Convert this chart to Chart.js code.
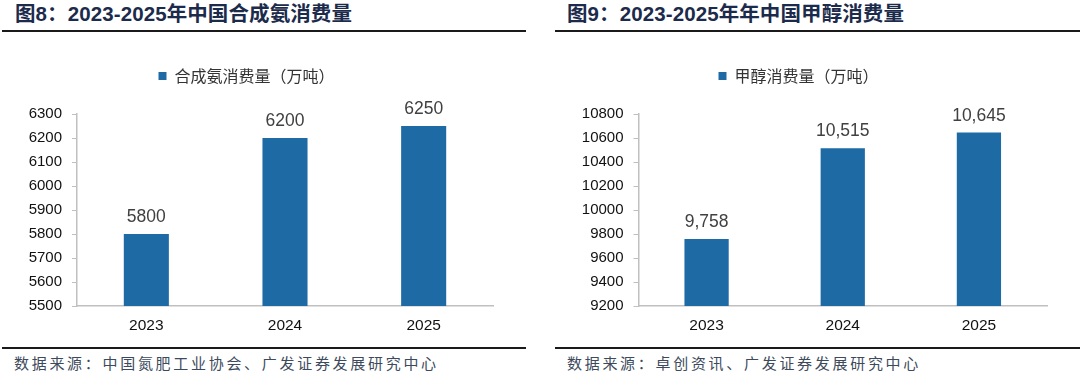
<!DOCTYPE html>
<html><head><meta charset="utf-8">
<script src="https://cdn.jsdelivr.net/npm/chart.js@4"></script>
<style>
html,body{margin:0;padding:0;background:#fff;}
#wrap{position:relative;width:1080px;height:379px;overflow:hidden;}
.title{position:absolute;top:2px;font:bold 20.5px 'Liberation Sans','Noto Sans CJK SC',sans-serif;color:#1c2b4b;line-height:24px;white-space:nowrap;letter-spacing:0.1px;}
.rule{position:absolute;height:2px;background:#1a1a1a;}
.src{position:absolute;top:352px;font:15px 'Noto Sans CJK SC',sans-serif;color:#3d4a5c;letter-spacing:2.7px;line-height:22px;white-space:nowrap;}
.box{position:absolute;top:40px;width:530px;height:300px;}
</style></head>
<body><div id="wrap">
<div class="title" style="left:15px">图8：2023-2025年中国合成氨消费量</div>
<div class="title" style="left:567px">图9：2023-2025年年中国甲醇消费量</div>
<div class="rule" style="left:2px;width:524px;top:30px"></div>
<div class="rule" style="left:555px;width:525px;top:30px"></div>
<div class="box" style="left:0px"><canvas id="c1"></canvas></div>
<div class="box" style="left:550px"><canvas id="c2"></canvas></div>
<div class="rule" style="left:2px;width:524px;top:347px"></div>
<div class="rule" style="left:555px;width:525px;top:347px"></div>
<div class="src" style="left:14px">数据来源：中国氮肥工业协会、广发证券发展研究中心</div>
<div class="src" style="left:567px">数据来源：卓创资讯、广发证券发展研究中心</div>
</div>
<script>
const years = ['2023', '2024', '2025'];
const ammoniaValues = [5800, 6200, 6250];
const methanolValues = [9758, 10515, 10645];
const ammoniaLabel = '合成氨消费量（万吨）';
const methanolLabel = '甲醇消费量（万吨）';
const ammoniaTicks = {min: 5500, max: 6300, step: 100};
const methanolTicks = {min: 9200, max: 10800, step: 200};

const BAR = '#1d6aa5';
const NUMFONT = "'Liberation Sans', Arial, sans-serif";

const valueLabels = {
  id: 'valueLabels',
  afterDatasetsDraw(chart, args, opts) {
    const ctx = chart.ctx;
    const meta = chart.getDatasetMeta(0);
    const data = chart.data.datasets[0].data;
    ctx.save();
    ctx.font = '17.5px ' + NUMFONT;
    ctx.fillStyle = '#404040';
    ctx.textAlign = 'center';
    ctx.textBaseline = 'alphabetic';
    meta.data.forEach((bar, i) => {
      ctx.fillText(opts.comma ? data[i].toLocaleString('en-US') : String(data[i]), bar.x, bar.y - 12);
    });
    ctx.restore();
  }
};

const legendGap = {
  id: 'legendGap',
  beforeInit(chart) {
    const orig = chart.legend.fit;
    chart.legend.fit = function () {
      orig.bind(chart.legend)();
      this.height += 20;
    };
  }
};

function makeChart(id, values, label, t, yWidth, padRight, comma) {
  return new Chart(document.getElementById(id), {
    type: 'bar',
    data: {labels: years, datasets: [{label, data: values, backgroundColor: BAR, borderWidth: 0, categoryPercentage: 1, barPercentage: 0.325}]},
    plugins: [valueLabels, legendGap],
    options: {
      responsive: true, maintainAspectRatio: false, animation: false,
      layout: {padding: {top: 18, right: padRight, left: 0, bottom: 0}},
      plugins: {
        legend: {display: true, position: 'top', labels: {boxWidth: 8, boxHeight: 8, padding: 10, color: '#333', font: {size: 16, family: "'Noto Sans CJK SC', sans-serif"}}},
        tooltip: {enabled: false},
        valueLabels: {comma}
      },
      scales: {
        x: {
          grid: {display: false, drawTicks: false},
          border: {display: true, color: '#c0c0c0', width: 1.5},
          ticks: {color: '#111', padding: 10, font: {size: 15.5, family: NUMFONT}},
          afterFit(s) { s.height = 34; }
        },
        y: {
          min: t.min, max: t.max,
          grid: {display: true, drawOnChartArea: false, drawTicks: true, tickLength: 5, color: '#c0c0c0'},
          border: {display: true, color: '#c0c0c0', width: 1.5},
          ticks: {stepSize: t.step, color: '#111', padding: 10, font: {size: 15, family: NUMFONT}, callback: v => String(v)},
          afterFit(s) { s.width = yWidth; }
        }
      }
    }
  });
}
makeChart('c1', ammoniaValues, ammoniaLabel, ammoniaTicks, 77, 37, false);
makeChart('c2', methanolValues, methanolLabel, methanolTicks, 88.5, 33, true);
</script>
</body></html>
